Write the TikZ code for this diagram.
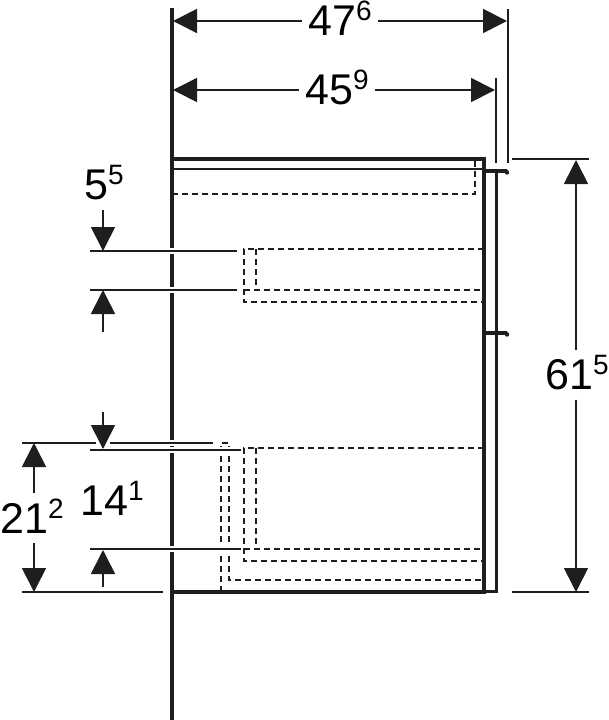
\documentclass[tikz,border=0pt]{standalone}
\usepackage{fontspec}
\setmainfont{Liberation Sans}
\usetikzlibrary{arrows.meta,positioning}
\definecolor{inkblack}{RGB}{30,30,30}
\newcommand{\dimval}[2]{#1\smash{\raisebox{15pt}{\fontsize{28}{28}\selectfont #2}}}

\begin{document}
\begin{tikzpicture}[x=1pt, y=-1pt,
    wallline/.style={draw=inkblack, line width=3.8pt},
    bodyline/.style={draw=inkblack, line width=3.2pt},
    frontline/.style={draw=inkblack, line width=3pt},
    thinline/.style={draw=inkblack, line width=1.7pt},
    hiddenline/.style={draw=inkblack, line width=1.7pt, dash pattern=on 6.4pt off 3.6pt},
    extline/.style={thinline, preaction={draw=white, line width=6pt}},
    dimarrow/.style={draw=inkblack, line width=1.7pt, -{Triangle[length=24pt, width=24pt, inkblack]}},
    dimtext/.style={font=\fontsize{43}{43}\selectfont, text=black, inner xsep=6.5pt, inner ysep=9.5pt}
]
\useasboundingbox (0,0) rectangle (609,720);

% Wall and cabinet
\draw[wallline] (172,8) -- (172,720);
\draw[bodyline] (172,159) -- (484,159) -- (484,592) -- (172,592);
\draw[thinline] (172,169) -- (484,169);
\draw[frontline] (496,170) -- (496,591) -- (484,591);

% Handles
\foreach \y in {171,333} {
    \draw[draw=inkblack, line width=4pt, line cap=round] (485,\y) -- (506,\y);
    \fill[inkblack] (507,\y+1.5) circle (2.2pt);
}

% Hidden edges
\draw[hiddenline] (475,161) -- (475,194) -- (173,194);
\draw[hiddenline] (484,249) -- (244,249) -- (244,302) -- (484,302);
\draw[hiddenline] (256,249) -- (256,290);
\draw[hiddenline] (244,290) -- (484,290);
\draw[hiddenline] (484,448) -- (244,448) -- (244,561) -- (484,561);
\draw[hiddenline] (256,448) -- (256,549);
\draw[hiddenline] (244,549) -- (484,549);
\draw[hiddenline] (221,592) -- (221,443) -- (229,443) -- (229,580) -- (484,580);

% Extension lines
\draw[thinline] (508,9) -- (508,163);
\draw[thinline] (496,78) -- (496,163);
\draw[thinline] (512,159) -- (589,159);
\draw[thinline] (512,592) -- (589,592);
\draw[extline] (90,251) -- (237,251);
\draw[extline] (90,290) -- (237,290);
\draw[thinline] (22,443) -- (96,443);
\draw[extline] (110,443) -- (213,443);
\draw[extline] (90,450) -- (241,450);
\draw[extline] (90,549) -- (241,549);
\draw[thinline] (22,592) -- (163,592);

% Labels
\node[dimtext] (dimA) at (340,21) {\dimval{47}{6}};
\node[dimtext] (dimB) at (337,90) {\dimval{45}{9}};
\node[dimtext] (dimC) at (577,375) {\dimval{61}{5}};
\node[dimtext] (dimD) at (104,185) {\dimval{5}{5}};
\node[dimtext] (dimE) at (112,501) {\dimval{14}{1}};
\node[dimtext] (dimF) at (32,518) {\dimval{21}{2}};

% Arrow ends
\coordinate (aLeft) at (173,21);
\coordinate (aRight) at (507,21);
\coordinate (bLeft) at (173,90);
\coordinate (bRight) at (495,90);
\coordinate (cTop) at (576,160);
\coordinate (cBot) at (576,592);
\coordinate (dTopS) at (103,210);
\coordinate (dTop) at (103,251);
\coordinate (dBotS) at (103,332);
\coordinate (dBot) at (103,290);
\coordinate (eTopS) at (103,412);
\coordinate (eTop) at (103,449);
\coordinate (eBotS) at (103,587);
\coordinate (eBot) at (103,550);
\coordinate (fTop) at (34,443);
\coordinate (fBot) at (34,592);

% Dimension arrows
\draw[dimarrow] (dimA.west) -- (aLeft);
\draw[dimarrow] (dimA.east) -- (aRight);
\draw[dimarrow] (dimB.west) -- (bLeft);
\draw[dimarrow] (dimB.east) -- (bRight);
\draw[dimarrow] (dimC.north -| cTop) -- (cTop);
\draw[dimarrow] (dimC.south -| cBot) -- (cBot);
\draw[dimarrow] (dTopS) -- (dTop);
\draw[dimarrow] (dBotS) -- (dBot);
\draw[dimarrow] (eTopS) -- (eTop);
\draw[dimarrow] (eBotS) -- (eBot);
\draw[dimarrow] (dimF.north -| fTop) -- (fTop);
\draw[dimarrow] (dimF.south -| fBot) -- (fBot);

\end{tikzpicture}
\end{document}
